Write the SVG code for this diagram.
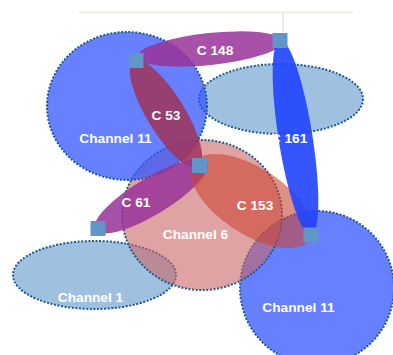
<svg xmlns="http://www.w3.org/2000/svg" width="393" height="355" viewBox="0 0 393 355">
<style>
.nd{stroke:#1c5a94;stroke-width:2;stroke-dasharray:2 1.6}
.ch11{fill:#3355ff;fill-opacity:0.75}
.ch1{fill:#6699cc;fill-opacity:0.62}
.ch6{fill:#cc6666;fill-opacity:0.6}
.lb{font-family:"Liberation Sans",Arial,sans-serif;font-weight:bold;font-size:13.7px;fill:#ffffff;text-anchor:middle}
.pt{fill:#6096c8}
.purp{fill:#993399;fill-opacity:0.85}
.wine{fill:#a0325a;fill-opacity:0.85}
.rust{fill:#cc4433;fill-opacity:0.6}
.blu{fill:#1f44ff;fill-opacity:0.9}
</style>
<rect width="393" height="355" fill="#ffffff"/>
<g id="frame" stroke="#eeeee4" stroke-width="2" fill="none">
<line x1="79" y1="12.5" x2="353" y2="12.5"/>
<line x1="283" y1="12.5" x2="283" y2="34"/>
</g>
<g id="nodes">
<g id="channel1"><ellipse class="nd ch1" cx="94.5" cy="275" rx="81.5" ry="34"/><text class="lb" x="90.5" y="302">Channel 1</text></g>
<g id="channel11b"><ellipse class="nd ch11" cx="317" cy="288" rx="77" ry="77"/><text class="lb" x="298.5" y="312">Channel 11</text></g>
<g id="zone"><ellipse class="nd ch1" cx="281" cy="99" rx="82" ry="35"/></g>
<g id="channel6"><ellipse class="nd ch6" cx="202" cy="215" rx="80" ry="75"/><text class="lb" x="195.5" y="239">Channel 6</text></g>
<g id="channel11a"><ellipse class="nd ch11" cx="127" cy="106" rx="80" ry="74"/><text class="lb" x="115.5" y="143">Channel 11</text></g>
</g>
<g id="connectors">
<g id="c148"><ellipse class="purp" cx="210" cy="49" rx="73" ry="16" transform="rotate(-6 210 49)"/><text class="lb" x="215" y="55">C 148</text></g>
<g id="c53"><ellipse class="wine" cx="166" cy="114" rx="62" ry="19" transform="rotate(58.6 166 114)"/><text class="lb" x="166" y="120">C 53</text></g>
<g id="c61"><ellipse class="purp" cx="151" cy="196.5" rx="65" ry="18.5" transform="rotate(-31 151 196.5)"/><text class="lb" x="136" y="207">C 61</text></g>
<g id="c153"><ellipse class="rust" cx="252" cy="201" rx="70" ry="33" transform="rotate(33 252 201)"/><text class="lb" x="255" y="210">C 153</text></g>
<g id="c161"><ellipse class="blu" cx="295.5" cy="137.5" rx="99" ry="17" transform="rotate(81 295.5 137.5)"/><text class="lb" x="289" y="143">C 161</text></g>
</g>
<g id="ports">
<rect id="p1" class="pt" x="128.5" y="53" width="15" height="15"/>
<rect id="p2" class="pt" x="272.5" y="33" width="15" height="15"/>
<rect id="p3" class="pt" x="192" y="158" width="15" height="15"/>
<rect id="p4" class="pt" x="90.5" y="221" width="15" height="15"/>
<rect id="p5" class="pt" x="303.5" y="227.5" width="15" height="15"/>
</g>
</svg>
